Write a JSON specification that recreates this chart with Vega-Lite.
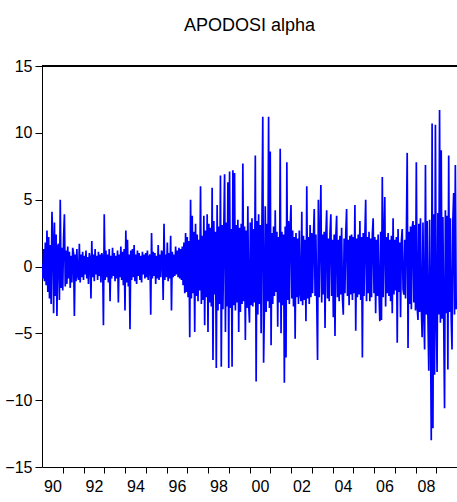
{
  "$schema": "https://vega.github.io/schema/vega-lite/v6.json",
  "width": 415,
  "height": 401,
  "autosize": {"type": "none"},
  "padding": {"left": 42, "top": 66, "right": 0, "bottom": 35},
  "background": "white",
  "config": {
    "view": {"stroke": null},
    "font": "Liberation Sans Narrow, Liberation Sans, Arial"
  },
  "title": {
    "text": "APODOSI  alpha",
    "fontSize": 18,
    "fontWeight": "normal",
    "font": "Liberation Sans Narrow, Liberation Sans, Arial",
    "color": "black",
    "anchor": "middle",
    "offset": 23
  },
  "data": {
    "values": [
      {"t":1990.00,"v":0.2},{"t":1990.04,"v":-0.9},{"t":1990.08,"v":1.3},{"t":1990.12,"v":-1.1},{"t":1990.16,"v":1.8},{"t":1990.20,"v":-1.4},{"t":1990.24,"v":2.7},{"t":1990.28,"v":-1.9},{"t":1990.32,"v":2.2},{"t":1990.36,"v":-2.4},{"t":1990.40,"v":1.6},{"t":1990.44,"v":-2.8},{"t":1990.48,"v":4.1},{"t":1990.52,"v":1.9},{"t":1990.56,"v":-3.5},{"t":1990.60,"v":3.3},{"t":1990.64,"v":-2.2},{"t":1990.68,"v":2.4},{"t":1990.72,"v":-3.7},{"t":1990.76,"v":1.5},{"t":1990.80,"v":1.7},{"t":1990.84,"v":-2.5},{"t":1990.88,"v":5.0},{"t":1990.92,"v":-1.6},{"t":1990.96,"v":1.4},
      {"t":1991.00,"v":-1.8},{"t":1991.04,"v":2.1},{"t":1991.08,"v":3.9},{"t":1991.12,"v":-1.5},{"t":1991.16,"v":1.2},{"t":1991.20,"v":-1.3},{"t":1991.24,"v":1.5},{"t":1991.28,"v":-0.9},{"t":1991.32,"v":1.1},{"t":1991.36,"v":-1.6},{"t":1991.40,"v":0.8},{"t":1991.44,"v":-1.2},{"t":1991.48,"v":1.4},{"t":1991.52,"v":1.0},{"t":1991.56,"v":-3.7},{"t":1991.60,"v":0.9},{"t":1991.64,"v":-1.1},{"t":1991.68,"v":1.3},{"t":1991.72,"v":-0.7},{"t":1991.76,"v":-1.0},{"t":1991.80,"v":1.7},{"t":1991.84,"v":-1.2},{"t":1991.88,"v":0.9},{"t":1991.92,"v":-0.8},{"t":1991.96,"v":1.1},
      {"t":1992.00,"v":-1.0},{"t":1992.04,"v":0.8},{"t":1992.08,"v":-0.6},{"t":1992.12,"v":1.2},{"t":1992.16,"v":-0.9},{"t":1992.20,"v":0.7},{"t":1992.24,"v":-1.3},{"t":1992.28,"v":1.0},{"t":1992.32,"v":0.6},{"t":1992.36,"v":-2.4},{"t":1992.40,"v":1.9},{"t":1992.44,"v":-0.8},{"t":1992.48,"v":0.9},{"t":1992.52,"v":-1.1},{"t":1992.56,"v":1.3},{"t":1992.60,"v":-0.6},{"t":1992.64,"v":0.8},{"t":1992.68,"v":-1.0},{"t":1992.72,"v":1.1},{"t":1992.76,"v":-0.7},{"t":1992.80,"v":0.9},{"t":1992.84,"v":-1.2},{"t":1992.88,"v":1.0},{"t":1992.92,"v":0.7},{"t":1992.96,"v":-4.4},
      {"t":1993.00,"v":3.9},{"t":1993.04,"v":-1.0},{"t":1993.08,"v":1.2},{"t":1993.12,"v":-0.8},{"t":1993.16,"v":0.9},{"t":1993.20,"v":-1.2},{"t":1993.24,"v":1.3},{"t":1993.28,"v":-2.6},{"t":1993.32,"v":0.8},{"t":1993.36,"v":-0.9},{"t":1993.40,"v":1.4},{"t":1993.44,"v":-0.7},{"t":1993.48,"v":1.0},{"t":1993.52,"v":-1.1},{"t":1993.56,"v":0.8},{"t":1993.60,"v":-0.9},{"t":1993.64,"v":1.2},{"t":1993.68,"v":-2.7},{"t":1993.72,"v":0.9},{"t":1993.76,"v":-0.8},{"t":1993.80,"v":1.5},{"t":1993.84,"v":-1.0},{"t":1993.88,"v":1.1},{"t":1993.92,"v":-1.4},{"t":1993.96,"v":1.3},
      {"t":1994.00,"v":-3.3},{"t":1994.04,"v":2.7},{"t":1994.08,"v":-1.2},{"t":1994.12,"v":2.0},{"t":1994.16,"v":-1.5},{"t":1994.20,"v":0.9},{"t":1994.24,"v":-4.7},{"t":1994.28,"v":1.2},{"t":1994.32,"v":-1.0},{"t":1994.36,"v":1.3},{"t":1994.40,"v":-0.8},{"t":1994.44,"v":1.6},{"t":1994.48,"v":-1.1},{"t":1994.52,"v":0.9},{"t":1994.56,"v":-1.3},{"t":1994.60,"v":1.2},{"t":1994.64,"v":-0.7},{"t":1994.68,"v":1.0},{"t":1994.72,"v":-1.0},{"t":1994.76,"v":0.8},{"t":1994.80,"v":-1.2},{"t":1994.84,"v":1.1},{"t":1994.88,"v":-0.6},{"t":1994.92,"v":0.9},{"t":1994.96,"v":-0.9},
      {"t":1995.00,"v":1.0},{"t":1995.04,"v":-0.8},{"t":1995.08,"v":1.2},{"t":1995.12,"v":-1.0},{"t":1995.16,"v":0.7},{"t":1995.20,"v":0.9},{"t":1995.24,"v":-3.6},{"t":1995.28,"v":2.5},{"t":1995.32,"v":-0.9},{"t":1995.36,"v":1.1},{"t":1995.40,"v":-0.7},{"t":1995.44,"v":1.0},{"t":1995.48,"v":-1.3},{"t":1995.52,"v":0.8},{"t":1995.56,"v":-0.9},{"t":1995.60,"v":1.6},{"t":1995.64,"v":-1.0},{"t":1995.68,"v":0.9},{"t":1995.72,"v":-0.8},{"t":1995.76,"v":1.2},{"t":1995.80,"v":1.0},{"t":1995.84,"v":-2.5},{"t":1995.88,"v":3.2},{"t":1995.92,"v":-1.0},{"t":1995.96,"v":0.9},
      {"t":1996.00,"v":-0.8},{"t":1996.04,"v":1.8},{"t":1996.08,"v":-1.1},{"t":1996.12,"v":1.0},{"t":1996.16,"v":-0.9},{"t":1996.20,"v":2.3},{"t":1996.24,"v":-3.3},{"t":1996.28,"v":1.1},{"t":1996.32,"v":-0.8},{"t":1996.36,"v":0.9},{"t":1996.40,"v":-0.7},{"t":1996.44,"v":1.5},{"t":1996.48,"v":-0.6},{"t":1996.52,"v":1.2},{"t":1996.56,"v":-0.8},{"t":1996.60,"v":1.4},{"t":1996.64,"v":-0.9},{"t":1996.68,"v":1.3},{"t":1996.72,"v":-1.0},{"t":1996.76,"v":1.5},{"t":1996.80,"v":-1.4},{"t":1996.84,"v":1.8},{"t":1996.88,"v":-2.0},{"t":1996.92,"v":2.5},{"t":1996.96,"v":-1.9},
      {"t":1997.00,"v":2.2},{"t":1997.04,"v":-2.3},{"t":1997.08,"v":1.9},{"t":1997.12,"v":-5.3},{"t":1997.16,"v":5.0},{"t":1997.20,"v":-2.4},{"t":1997.24,"v":3.8},{"t":1997.28,"v":-2.0},{"t":1997.32,"v":2.6},{"t":1997.36,"v":-4.9},{"t":1997.40,"v":3.2},{"t":1997.44,"v":-2.2},{"t":1997.48,"v":2.4},{"t":1997.52,"v":-2.6},{"t":1997.56,"v":2.0},{"t":1997.60,"v":-1.8},{"t":1997.64,"v":6.0},{"t":1997.68,"v":-2.8},{"t":1997.72,"v":2.3},{"t":1997.76,"v":-2.5},{"t":1997.80,"v":3.8},{"t":1997.84,"v":-4.4},{"t":1997.88,"v":2.7},{"t":1997.92,"v":-2.3},{"t":1997.96,"v":3.9},
      {"t":1998.00,"v":-4.9},{"t":1998.04,"v":3.2},{"t":1998.08,"v":-2.7},{"t":1998.12,"v":2.9},{"t":1998.16,"v":-3.0},{"t":1998.20,"v":5.9},{"t":1998.24,"v":-7.0},{"t":1998.28,"v":3.4},{"t":1998.32,"v":-2.1},{"t":1998.36,"v":2.6},{"t":1998.40,"v":-7.6},{"t":1998.44,"v":4.6},{"t":1998.48,"v":-3.3},{"t":1998.52,"v":3.0},{"t":1998.56,"v":-2.8},{"t":1998.60,"v":6.8},{"t":1998.64,"v":-7.5},{"t":1998.68,"v":3.1},{"t":1998.72,"v":-3.2},{"t":1998.76,"v":2.7},{"t":1998.80,"v":6.9},{"t":1998.84,"v":-4.9},{"t":1998.88,"v":3.3},{"t":1998.92,"v":-3.0},{"t":1998.96,"v":6.3},
      {"t":1999.00,"v":-7.6},{"t":1999.04,"v":7.1},{"t":1999.08,"v":-3.1},{"t":1999.12,"v":2.8},{"t":1999.16,"v":-7.5},{"t":1999.20,"v":7.2},{"t":1999.24,"v":-2.9},{"t":1999.28,"v":7.0},{"t":1999.32,"v":-3.3},{"t":1999.36,"v":3.1},{"t":1999.40,"v":-2.7},{"t":1999.44,"v":3.5},{"t":1999.48,"v":-4.9},{"t":1999.52,"v":2.9},{"t":1999.56,"v":-3.4},{"t":1999.60,"v":3.2},{"t":1999.64,"v":-2.8},{"t":1999.68,"v":7.7},{"t":1999.72,"v":-2.6},{"t":1999.76,"v":3.0},{"t":1999.80,"v":-5.5},{"t":1999.84,"v":2.7},{"t":1999.88,"v":-3.1},{"t":1999.92,"v":4.5},{"t":1999.96,"v":-2.8},
      {"t":2000.00,"v":-4.2},{"t":2000.04,"v":3.3},{"t":2000.08,"v":-2.9},{"t":2000.12,"v":3.6},{"t":2000.16,"v":-3.0},{"t":2000.20,"v":2.8},{"t":2000.24,"v":-2.7},{"t":2000.28,"v":8.3},{"t":2000.32,"v":-8.6},{"t":2000.36,"v":3.4},{"t":2000.40,"v":-3.6},{"t":2000.44,"v":3.9},{"t":2000.48,"v":-2.8},{"t":2000.52,"v":3.1},{"t":2000.56,"v":-5.0},{"t":2000.60,"v":3.3},{"t":2000.64,"v":11.2},{"t":2000.68,"v":-7.2},{"t":2000.72,"v":-2.9},{"t":2000.76,"v":4.5},{"t":2000.80,"v":-3.4},{"t":2000.84,"v":3.2},{"t":2000.88,"v":-2.6},{"t":2000.92,"v":11.2},{"t":2000.96,"v":-3.1},
      {"t":2001.00,"v":8.6},{"t":2001.04,"v":-5.9},{"t":2001.08,"v":2.5},{"t":2001.12,"v":-2.8},{"t":2001.16,"v":3.0},{"t":2001.20,"v":-2.2},{"t":2001.24,"v":4.2},{"t":2001.28,"v":-1.9},{"t":2001.32,"v":2.6},{"t":2001.36,"v":-4.5},{"t":2001.40,"v":2.2},{"t":2001.44,"v":-2.7},{"t":2001.48,"v":8.8},{"t":2001.52,"v":-5.0},{"t":2001.56,"v":2.6},{"t":2001.60,"v":-2.9},{"t":2001.64,"v":2.4},{"t":2001.68,"v":-8.7},{"t":2001.72,"v":3.0},{"t":2001.76,"v":-6.8},{"t":2001.80,"v":7.8},{"t":2001.84,"v":-2.5},{"t":2001.88,"v":3.4},{"t":2001.92,"v":-2.8},{"t":2001.96,"v":2.9},
      {"t":2002.00,"v":4.6},{"t":2002.04,"v":-2.4},{"t":2002.08,"v":2.7},{"t":2002.12,"v":-3.0},{"t":2002.16,"v":2.2},{"t":2002.20,"v":-5.4},{"t":2002.24,"v":2.5},{"t":2002.28,"v":-2.3},{"t":2002.32,"v":2.1},{"t":2002.36,"v":-2.8},{"t":2002.40,"v":2.7},{"t":2002.44,"v":-2.0},{"t":2002.48,"v":-2.6},{"t":2002.52,"v":4.1},{"t":2002.56,"v":-2.9},{"t":2002.60,"v":2.3},{"t":2002.64,"v":-2.5},{"t":2002.68,"v":2.0},{"t":2002.72,"v":-4.1},{"t":2002.76,"v":6.0},{"t":2002.80,"v":-2.4},{"t":2002.84,"v":2.2},{"t":2002.88,"v":-2.8},{"t":2002.92,"v":3.1},{"t":2002.96,"v":-2.3},
      {"t":2003.00,"v":2.5},{"t":2003.04,"v":-2.0},{"t":2003.08,"v":2.1},{"t":2003.12,"v":4.3},{"t":2003.16,"v":-2.2},{"t":2003.20,"v":2.4},{"t":2003.24,"v":-2.5},{"t":2003.28,"v":-7.0},{"t":2003.32,"v":5.0},{"t":2003.36,"v":-2.3},{"t":2003.40,"v":2.2},{"t":2003.44,"v":6.1},{"t":2003.48,"v":-2.7},{"t":2003.52,"v":2.4},{"t":2003.56,"v":-2.1},{"t":2003.60,"v":2.6},{"t":2003.64,"v":-4.6},{"t":2003.68,"v":2.3},{"t":2003.72,"v":4.2},{"t":2003.76,"v":-2.4},{"t":2003.80,"v":2.1},{"t":2003.84,"v":-2.6},{"t":2003.88,"v":2.5},{"t":2003.92,"v":3.9},{"t":2003.96,"v":-2.2},
      {"t":2004.00,"v":2.0},{"t":2004.04,"v":-3.8},{"t":2004.08,"v":2.4},{"t":2004.12,"v":-5.2},{"t":2004.16,"v":2.2},{"t":2004.20,"v":3.8},{"t":2004.24,"v":-2.3},{"t":2004.28,"v":2.0},{"t":2004.32,"v":-2.6},{"t":2004.36,"v":2.3},{"t":2004.40,"v":-2.1},{"t":2004.44,"v":2.9},{"t":2004.48,"v":-2.4},{"t":2004.52,"v":-3.6},{"t":2004.56,"v":2.1},{"t":2004.60,"v":-2.0},{"t":2004.64,"v":2.5},{"t":2004.68,"v":4.3},{"t":2004.72,"v":-2.2},{"t":2004.76,"v":2.0},{"t":2004.80,"v":-2.9},{"t":2004.84,"v":2.3},{"t":2004.88,"v":-2.1},{"t":2004.92,"v":2.4},{"t":2004.96,"v":-2.5},
      {"t":2005.00,"v":2.2},{"t":2005.04,"v":-2.0},{"t":2005.08,"v":4.6},{"t":2005.12,"v":-4.8},{"t":2005.16,"v":2.1},{"t":2005.20,"v":-2.3},{"t":2005.24,"v":2.4},{"t":2005.28,"v":-2.1},{"t":2005.32,"v":3.4},{"t":2005.36,"v":-2.5},{"t":2005.40,"v":2.2},{"t":2005.44,"v":-6.8},{"t":2005.48,"v":2.5},{"t":2005.52,"v":-2.2},{"t":2005.56,"v":2.3},{"t":2005.60,"v":5.0},{"t":2005.64,"v":-2.6},{"t":2005.68,"v":2.2},{"t":2005.72,"v":-2.0},{"t":2005.76,"v":2.6},{"t":2005.80,"v":-2.6},{"t":2005.84,"v":2.1},{"t":2005.88,"v":-2.3},{"t":2005.92,"v":2.4},{"t":2005.96,"v":3.6},
      {"t":2006.00,"v":-2.0},{"t":2006.04,"v":2.2},{"t":2006.08,"v":-3.5},{"t":2006.12,"v":2.0},{"t":2006.16,"v":-2.2},{"t":2006.20,"v":2.4},{"t":2006.24,"v":-1.9},{"t":2006.28,"v":-4.1},{"t":2006.32,"v":2.6},{"t":2006.36,"v":-4.0},{"t":2006.40,"v":6.7},{"t":2006.44,"v":-2.3},{"t":2006.48,"v":2.1},{"t":2006.52,"v":5.2},{"t":2006.56,"v":-3.0},{"t":2006.60,"v":2.2},{"t":2006.64,"v":-2.0},{"t":2006.68,"v":2.5},{"t":2006.72,"v":-2.2},{"t":2006.76,"v":2.0},{"t":2006.80,"v":-2.6},{"t":2006.84,"v":2.3},{"t":2006.88,"v":-3.5},{"t":2006.92,"v":3.6},{"t":2006.96,"v":-2.1},
      {"t":2007.00,"v":2.0},{"t":2007.04,"v":-1.8},{"t":2007.08,"v":2.2},{"t":2007.12,"v":-5.7},{"t":2007.16,"v":2.8},{"t":2007.20,"v":-1.9},{"t":2007.24,"v":1.8},{"t":2007.28,"v":-3.8},{"t":2007.32,"v":1.9},{"t":2007.36,"v":2.8},{"t":2007.40,"v":-1.7},{"t":2007.44,"v":-2.1},{"t":2007.48,"v":2.0},{"t":2007.52,"v":-2.4},{"t":2007.56,"v":2.3},{"t":2007.60,"v":8.5},{"t":2007.64,"v":-6.1},{"t":2007.68,"v":2.6},{"t":2007.72,"v":-2.8},{"t":2007.76,"v":3.0},{"t":2007.80,"v":-3.2},{"t":2007.84,"v":2.9},{"t":2007.88,"v":3.4},{"t":2007.92,"v":-2.7},{"t":2007.96,"v":3.1},
      {"t":2008.00,"v":-3.3},{"t":2008.04,"v":7.8},{"t":2008.08,"v":-3.0},{"t":2008.12,"v":-4.0},{"t":2008.16,"v":3.2},{"t":2008.20,"v":-3.4},{"t":2008.24,"v":3.6},{"t":2008.28,"v":-3.1},{"t":2008.32,"v":-5.3},{"t":2008.36,"v":3.3},{"t":2008.40,"v":-3.5},{"t":2008.44,"v":-6.2},{"t":2008.48,"v":7.6},{"t":2008.52,"v":-3.6},{"t":2008.56,"v":3.4},{"t":2008.60,"v":-3.8},{"t":2008.64,"v":-7.8},{"t":2008.68,"v":3.5},{"t":2008.72,"v":-4.0},{"t":2008.76,"v":-13.0},{"t":2008.80,"v":10.7},{"t":2008.84,"v":-12.1},{"t":2008.88,"v":3.9},{"t":2008.92,"v":-8.1},{"t":2008.96,"v":10.6},
      {"t":2009.00,"v":-3.8},{"t":2009.04,"v":-7.9},{"t":2009.08,"v":4.0},{"t":2009.12,"v":-3.6},{"t":2009.16,"v":11.7},{"t":2009.20,"v":-4.2},{"t":2009.24,"v":8.7},{"t":2009.28,"v":-3.9},{"t":2009.32,"v":3.7},{"t":2009.36,"v":-4.1},{"t":2009.40,"v":-10.6},{"t":2009.44,"v":4.2},{"t":2009.48,"v":-3.5},{"t":2009.52,"v":3.8},{"t":2009.56,"v":-7.7},{"t":2009.60,"v":8.3},{"t":2009.64,"v":-3.4},{"t":2009.68,"v":3.6},{"t":2009.72,"v":-3.9},{"t":2009.76,"v":-6.2},{"t":2009.80,"v":3.4},{"t":2009.84,"v":5.5},{"t":2009.88,"v":-3.6},{"t":2009.92,"v":7.6},{"t":2009.96,"v":-3.2}
    ]
  },
  "layer": [
    {
      "mark": {"type": "line", "color": "#0000ff", "strokeWidth": 1.7, "clip": true},
      "encoding": {
        "x": {
          "field": "t",
          "type": "quantitative",
          "scale": {"domain": [1990, 2010], "nice": false, "zero": false},
          "axis": {
            "title": null,
            "grid": false,
            "values": [1990.5, 1991, 1992, 1992.5, 1993, 1994, 1994.5, 1995, 1996, 1996.5, 1997, 1998, 1998.5, 1999, 2000, 2000.5, 2001, 2002, 2002.5, 2003, 2004, 2004.5, 2005, 2006, 2006.5, 2007, 2008, 2008.5, 2009],
            "labelExpr": "datum.value % 1 == 0 ? '' : ((floor(datum.value) % 100) < 10 ? '0' : '') + (floor(datum.value) % 100)",
            "tickOpacity": {"condition": {"test": "datum.value % 1 != 0", "value": 0}, "value": 1},
            "tickSize": 6,
            "tickColor": "black",
            "domainColor": "black",
            "labelColor": "black",
            "labelFontSize": 16,
            "labelFont": "Liberation Sans Narrow, Liberation Sans, Arial",
            "labelPadding": 5,
            "labelOverlap": false,
            "labelFlush": false,
            "labelBound": false
          }
        },
        "y": {
          "field": "v",
          "type": "quantitative",
          "scale": {"domain": [-15, 15], "nice": false},
          "axis": {
            "title": null,
            "grid": false,
            "values": [-15, -10, -5, 0, 5, 10, 15],
            "tickSize": 7,
            "tickColor": "black",
            "domainColor": "black",
            "labelColor": "black",
            "labelFontSize": 16,
            "labelFont": "Liberation Sans Narrow, Liberation Sans, Arial",
            "labelPadding": 3,
            "labelOverlap": false,
            "labelFlush": false,
            "labelBound": false
          }
        }
      }
    },
    {
      "mark": {"type": "rule", "color": "black", "strokeWidth": 1},
      "encoding": {"y": {"datum": 15}}
    }
  ]
}
